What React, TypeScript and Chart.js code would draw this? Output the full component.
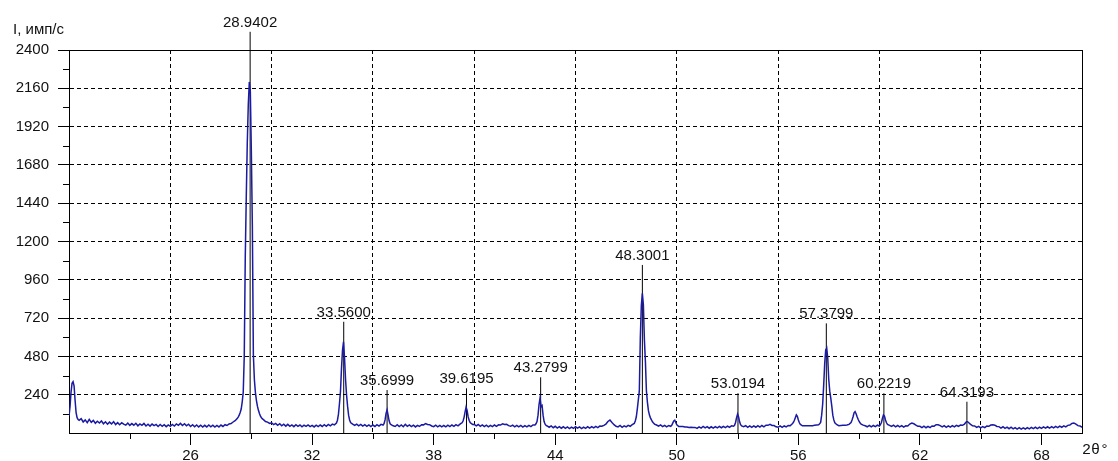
import React, { useEffect, useRef } from 'react';
import { Chart, registerables } from 'chart.js';
Chart.register(...registerables);

// ---- spectrum segments: [2θ, intensity] ----
const segStart: [number, number][] = [
  [20.00,105],[20.05,165],[20.10,255],[20.15,312],[20.20,322],[20.25,296],[20.30,205],[20.35,128],[20.40,96],[20.45,84],
  [20.5,79],[20.6,90],[20.7,69],[20.8,82],[20.9,65],[21.0,85],[21.1,67],[21.2,79],[21.3,61],[21.4,74],[21.5,63],[21.6,76],
  [21.7,58],[21.8,70],[21.9,55],[22.0,68],[22.1,57],[22.2,71],[22.3,53],[22.4,65],[22.5,52],[22.6,64],[22.7,55],[22.8,49],
  [22.9,62],[23.0,48],[23.1,59],[23.2,49],[23.3,61],[23.4,45],[23.5,57],[23.6,48],[23.7,60],[23.8,44],[23.9,55],[24.0,43],
  [24.1,56],[24.2,46],[24.3,54],[24.4,41],[24.5,53],[24.6,42],[24.7,52],[24.8,40],[24.9,51],[25.0,42],[25.1,54],[25.2,44],
  [25.3,57],[25.4,48],[25.5,60],[25.6,47],[25.7,58],[25.8,45],[25.9,55],[26.0,41],[26.1,52],[26.2,39],[26.3,50],[26.4,38],
  [26.5,49],[26.6,37],[26.7,48],[26.8,38],[26.9,50],[27.0,39],[27.1,49],[27.2,37],[27.3,47],[27.4,38],[27.5,50],[27.6,41],
  [27.7,52],[27.8,47],[27.9,57],[28.0,59],[28.1,69],[28.2,77],[28.3,90],
];
const segMainPeak: [number, number][] = [
  [28.35,100],[28.4,112],[28.45,128],[28.5,150],[28.55,195],[28.6,255],[28.65,480],[28.7,1100],[28.75,1480],[28.8,1820],
  [28.85,2060],[28.9,2200],[28.95,2140],[29.0,1760],[29.05,1300],[29.1,490],[29.15,335],[29.2,255],[29.25,205],[29.3,168],
  [29.35,142],[29.4,122],[29.45,105],[29.5,96],[29.55,88],[29.6,84],[29.7,72],[29.8,68],[29.9,60],[30.0,64],
];
const seg30to33: [number, number][] = [
  [30.1,53],[30.2,60],[30.3,48],[30.4,58],[30.5,45],[30.6,55],[30.7,43],[30.8,54],[30.9,42],[31.0,51],[31.1,40],[31.2,52],
  [31.3,42],[31.4,50],[31.5,39],[31.6,49],[31.7,41],[31.8,51],[31.9,40],[32.0,48],[32.1,38],[32.2,49],[32.3,40],[32.4,50],
  [32.5,41],[32.6,52],[32.7,42],[32.8,54],[32.9,45],[33.0,56],[33.1,51],[33.2,62],
];
const segPeak3356: [number, number][] = [
  [33.25,80],[33.3,118],[33.35,185],[33.4,262],[33.45,405],[33.5,520],[33.55,572],[33.6,470],[33.65,335],[33.7,238],
  [33.75,168],[33.8,112],[33.85,82],[33.9,66],[33.95,60],[34.0,56],
];
const seg34to35: [number, number][] = [
  [34.1,48],[34.2,56],[34.3,45],[34.4,54],[34.5,43],[34.6,52],[34.7,42],[34.8,51],[34.9,40],[35.0,50],[35.1,41],[35.2,52],
  [35.3,43],[35.4,54],[35.5,50],
];
const segPeak3570: [number, number][] = [
  [35.55,58],[35.6,82],[35.65,122],[35.7,144],[35.75,112],[35.8,76],[35.85,58],[35.9,52],
];
const seg36to39: [number, number][] = [
  [36.0,45],[36.1,41],[36.2,52],[36.3,40],[36.4,50],[36.5,39],[36.6,54],[36.7,42],[36.8,51],[36.9,40],[37.0,49],[37.1,38],
  [37.2,48],[37.3,41],[37.4,52],[37.5,51],[37.6,59],[37.7,53],[37.8,52],[37.9,44],[38.0,40],[38.1,49],[38.2,39],[38.3,48],
  [38.4,38],[38.5,47],[38.6,39],[38.7,49],[38.8,40],[38.9,50],[39.0,42],[39.1,52],[39.2,45],[39.3,56],[39.35,60],
];
const segPeak3962: [number, number][] = [
  [39.4,64],[39.45,75],[39.5,98],[39.55,132],[39.6,163],[39.65,142],[39.7,102],[39.75,80],[39.8,66],[39.85,60],[39.9,56],
  [39.95,52],[40.0,54],
];
const seg40to43: [number, number][] = [
  [40.1,45],[40.2,53],[40.3,42],[40.4,51],[40.5,40],[40.6,49],[40.7,39],[40.8,48],[40.9,40],[41.0,50],[41.1,42],[41.2,51],
  [41.3,50],[41.4,58],[41.5,53],[41.6,54],[41.7,46],[41.8,42],[41.9,49],[42.0,39],[42.1,48],[42.2,38],[42.3,47],[42.4,37],
  [42.5,46],[42.6,38],[42.7,48],[42.8,40],[42.9,50],[43.0,50],
];
const segPeak4328: [number, number][] = [
  [43.05,58],[43.1,72],[43.15,112],[43.2,178],[43.25,219],[43.3,165],[43.35,172],[43.4,112],[43.45,72],[43.5,55],[43.55,47],
  [43.6,44],
];
const seg44to48: [number, number][] = [
  [43.7,36],[43.8,44],[43.9,33],[44.0,42],[44.1,31],[44.2,40],[44.3,30],[44.4,39],[44.5,29],[44.6,38],[44.7,28],[44.8,37],
  [44.9,29],[45.0,39],[45.1,30],[45.2,38],[45.3,28],[45.4,37],[45.5,29],[45.6,39],[45.7,31],[45.8,40],[45.9,32],[46.0,41],
  [46.1,34],[46.2,43],[46.3,42],[46.4,48],[46.5,56],[46.6,72],[46.7,81],[46.8,66],[46.9,52],[47.0,42],[47.1,38],[47.2,47],
  [47.3,36],[47.4,45],[47.5,38],[47.6,48],[47.7,42],[47.8,52],[47.9,60],
];
const segPeak4830: [number, number][] = [
  [47.95,75],[48.0,100],[48.05,150],[48.1,207],[48.15,262],[48.2,600],[48.25,800],[48.3,875],[48.35,805],[48.4,585],
  [48.45,450],[48.5,265],[48.55,192],[48.6,140],[48.65,112],[48.7,95],[48.75,82],[48.8,70],[48.85,62],[48.9,56],
];
const seg49to52: [number, number][] = [
  [49.0,50],[49.1,43],[49.2,51],[49.3,40],[49.4,48],[49.5,38],[49.6,47],[49.7,42],[49.75,48],[49.8,62],[49.85,76],[49.9,81],
  [49.95,66],[50.0,52],[50.1,41],[50.2,40],[50.3,40],[50.4,37],[50.5,38],[50.6,35],[50.7,36],[50.8,34],[50.9,35],[51.0,29],
  [51.1,38],[51.2,31],[51.3,41],[51.4,32],[51.5,40],[51.6,30],[51.7,39],[51.8,31],[51.9,40],[52.0,32],[52.1,41],[52.2,33],
  [52.3,42],[52.4,34],[52.5,43],[52.6,36],[52.7,45],[52.8,42],
];
const segPeak5302: [number, number][] = [
  [52.85,48],[52.9,66],[52.95,96],[53.0,119],[53.05,100],[53.1,70],[53.15,52],[53.2,44],[53.3,40],
];
const seg53to55: [number, number][] = [
  [53.4,46],[53.5,36],[53.6,45],[53.7,35],[53.8,44],[53.9,36],[54.0,46],[54.1,37],[54.2,47],[54.3,39],[54.4,49],[54.5,48],
  [54.6,54],[54.7,47],[54.8,47],[54.9,39],[55.0,36],[55.1,45],[55.2,35],[55.3,44],[55.4,38],[55.5,47],[55.6,46],[55.65,52],
];
const segPeak5738: [number, number][] = [
  [55.7,58],[55.75,66],[55.8,78],[55.85,96],[55.9,113],[55.95,104],[56.0,82],[56.05,64],[56.1,54],[56.2,45],[56.3,46],
  [56.4,46],[56.5,45],[56.6,45],[56.7,46],[56.8,48],[56.9,50],[57.0,52],[57.05,58],[57.1,66],[57.15,112],[57.2,182],
  [57.25,300],[57.3,435],[57.35,520],[57.4,532],[57.45,470],[57.5,335],[57.55,262],[57.6,218],[57.65,168],[57.7,112],
  [57.75,82],[57.8,64],[57.85,58],[57.9,52],[58.0,46],[58.1,47],[58.2,48],[58.3,49],
];
const segPeak5880: [number, number][] = [
  [58.4,50],[58.5,54],[58.6,66],[58.65,82],[58.7,102],[58.75,126],[58.8,134],[58.85,121],[58.9,102],[58.95,86],[59.0,72],
  [59.05,62],[59.1,56],[59.2,49],[59.3,45],
];
const seg59to60: [number, number][] = [
  [59.4,39],[59.5,48],[59.6,38],[59.7,47],[59.8,40],[59.9,49],[60.0,44],[60.05,52],
];
const segPeak6022: [number, number][] = [
  [60.1,66],[60.15,92],[60.2,113],[60.25,106],[60.3,82],[60.35,64],[60.4,54],[60.5,48],
];
const segEnd: [number, number][] = [
  [60.6,41],[60.7,49],[60.8,39],[60.9,47],[61.0,38],[61.1,46],[61.2,37],[61.3,45],[61.4,44],[61.5,56],[61.6,62],[61.7,58],
  [61.8,50],[61.9,42],[62.0,42],[62.1,34],[62.2,43],[62.3,33],[62.4,42],[62.5,34],[62.6,44],[62.7,43],[62.8,52],[62.9,52],
  [63.0,46],[63.1,38],[63.2,46],[63.3,36],[63.4,45],[63.5,37],[63.6,46],[63.7,38],[63.8,48],[63.9,42],[64.0,50],[64.1,48],
  [64.2,56],[64.25,64],[64.3,70],[64.35,71],[64.4,66],[64.45,60],[64.5,54],[64.6,45],[64.7,44],[64.8,35],[64.9,42],[65.0,32],
  [65.1,40],[65.2,34],[65.3,43],[65.4,42],[65.5,50],[65.6,52],[65.7,49],[65.8,41],[65.9,40],[66.0,31],[66.1,39],[66.2,29],
  [66.3,37],[66.4,27],[66.5,36],[66.6,26],[66.7,34],[66.8,25],[66.9,33],[67.0,24],[67.1,32],[67.2,25],[67.3,34],[67.4,26],
  [67.5,35],[67.6,27],[67.7,36],[67.8,28],[67.9,37],[68.0,29],[68.1,38],[68.2,30],[68.3,39],[68.4,31],[68.5,40],[68.6,32],
  [68.7,41],[68.8,34],[68.9,43],[69.0,36],[69.1,45],[69.2,38],[69.3,48],[69.4,50],[69.5,60],[69.6,62],[69.7,56],[69.8,46],
  [69.9,44],[70.0,36],
];

// ---- peak annotations ----
const peakPositions = [28.9402, 33.56, 35.6999, 39.6195, 43.2799, 48.3001, 53.0194, 57.3799, 60.2219, 64.3193];
const peakLabels = ['28.9402', '33.5600', '35.6999', '39.6195', '43.2799', '48.3001', '53.0194', '57.3799', '60.2219', '64.3193'];
const peakMarkerTops = [2514, 697, 269, 280, 349, 1053, 249, 687, 249, 196];

// ---- axes ----
const xMin = 20, xMax = 70, yMin = 0, yMax = 2400;
const xLabelTicks = [26, 32, 38, 44, 50, 56, 62, 68];
const xMinorTicks = [23, 29, 35, 41, 47, 53, 59, 65];
const xGridValues = [25, 30, 35, 40, 45, 50, 55, 60, 65, 70];
const yStep = 240;
const yMinorTicks = [120, 360, 600, 840, 1080, 1320, 1560, 1800, 2040, 2280];
const yAxisTitle = 'I, имп/с';
const xAxisTitle = '2θ°';

const FONT = '"Liberation Sans", Arial, sans-serif';

const spectrum = [
  ...segStart, ...segMainPeak, ...seg30to33, ...segPeak3356, ...seg34to35, ...segPeak3570, ...seg36to39,
  ...segPeak3962, ...seg40to43, ...segPeak4328, ...seg44to48, ...segPeak4830, ...seg49to52, ...segPeak5302,
  ...seg53to55, ...segPeak5738, ...segPeak5880, ...seg59to60, ...segPeak6022, ...segEnd,
].map(([x, y]) => ({ x, y }));

const markerData: { x: number; y: number | null }[] = [];
peakPositions.forEach((p, i) => {
  markerData.push({ x: p, y: 0 }, { x: p, y: peakMarkerTops[i] }, { x: p, y: null });
});

const decorPlugin = {
  id: 'decor',
  afterDraw(chart: any) {
    const { ctx, chartArea } = chart;
    const xs = chart.scales.x;
    const ys = chart.scales.y;
    ctx.save();
    ctx.strokeStyle = '#000';
    ctx.lineWidth = 1;
    ctx.setLineDash([]);
    ctx.beginPath();
    xMinorTicks.forEach((v) => {
      const px = Math.round(xs.getPixelForValue(v)) + 0.5;
      ctx.moveTo(px, chartArea.bottom);
      ctx.lineTo(px, chartArea.bottom + 6);
    });
    yMinorTicks.forEach((v) => {
      const py = Math.round(ys.getPixelForValue(v)) + 0.5;
      ctx.moveTo(chartArea.left - 6, py);
      ctx.lineTo(chartArea.left, py);
    });
    ctx.stroke();

    ctx.fillStyle = '#111';
    ctx.font = `15px ${FONT}`;
    ctx.textAlign = 'center';
    ctx.textBaseline = 'alphabetic';
    peakPositions.forEach((p, i) => {
      ctx.fillText(peakLabels[i], xs.getPixelForValue(p), ys.getPixelForValue(peakMarkerTops[i]) - 5);
    });

    ctx.textAlign = 'left';
    ctx.textBaseline = 'middle';
    ctx.fillText(yAxisTitle, chartArea.left - 56, chartArea.top - 20);
    ctx.font = `15px "Liberation Mono", "DejaVu Sans Mono", monospace`;
    ctx.fillText(xAxisTitle, chartArea.right, chartArea.bottom + 17);
    ctx.restore();
  },
};

export default function App() {
  const ref = useRef<HTMLCanvasElement | null>(null);
  useEffect(() => {
    if (!ref.current) return;
    const chart = new Chart(ref.current, {
      type: 'line',
      data: {
        datasets: [
          {
            data: spectrum as any,
            borderColor: '#1a1aa2',
            borderWidth: 1.5,
            pointRadius: 0,
            tension: 0,
            fill: false,
          },
          {
            data: markerData as any,
            borderColor: '#000',
            borderWidth: 1,
            pointRadius: 0,
            tension: 0,
            fill: false,
            spanGaps: false,
            clip: false as any,
          },
        ],
      },
      options: {
        animation: false,
        responsive: false,
        devicePixelRatio: 1,
        layout: { padding: { top: 50, right: 36, left: 0, bottom: 0 } },
        plugins: { legend: { display: false }, tooltip: { enabled: false } },
        scales: {
          x: {
            type: 'linear',
            position: 'bottom',
            min: xMin,
            max: xMax,
            afterBuildTicks: (s: any) => { s.ticks = xLabelTicks.map((v) => ({ value: v })); },
            afterFit: (s: any) => { s.height = 28; },
            ticks: { autoSkip: false, maxRotation: 0, padding: 2, color: '#111', font: { family: FONT, size: 15 } },
            grid: { drawOnChartArea: false, tickLength: 12, color: '#000', lineWidth: 1 },
            border: { color: '#000', width: 1 },
          },
          xg: {
            type: 'linear',
            position: 'top',
            min: xMin,
            max: xMax,
            afterBuildTicks: (s: any) => { s.ticks = xGridValues.map((v) => ({ value: v })); },
            afterFit: (s: any) => { s.height = 0; },
            ticks: { display: false },
            grid: { drawTicks: false, color: '#000', lineWidth: 1 },
            border: { display: false, dash: (c: any) => (c.tick && c.tick.value === xMax ? [] : [4, 3]) },
          },
          y: {
            type: 'linear',
            min: yMin,
            max: yMax,
            afterFit: (s: any) => { s.width = 69; },
            ticks: {
              stepSize: yStep,
              padding: 9,
              color: '#111',
              font: { family: FONT, size: 15 },
              callback: (v: any) => (v === 0 ? '' : String(v)),
            },
            grid: {
              tickLength: 11,
              lineWidth: 1,
              color: (c: any) => (c.tick && c.tick.value === 0 ? 'rgba(0,0,0,0)' : '#000'),
            },
            border: { color: '#000', width: 1, dash: (c: any) => (c.tick && c.tick.value === yMax ? [] : [4, 3]) },
          },
        },
      },
      plugins: [decorPlugin],
    });
    return () => chart.destroy();
  }, []);
  return (
    <div style={{ position: 'absolute', left: 0, top: 0, width: 1118, height: 461, background: '#fff' }}>
      <canvas ref={ref} width={1118} height={461} style={{ display: 'block' }} />
    </div>
  );
}
